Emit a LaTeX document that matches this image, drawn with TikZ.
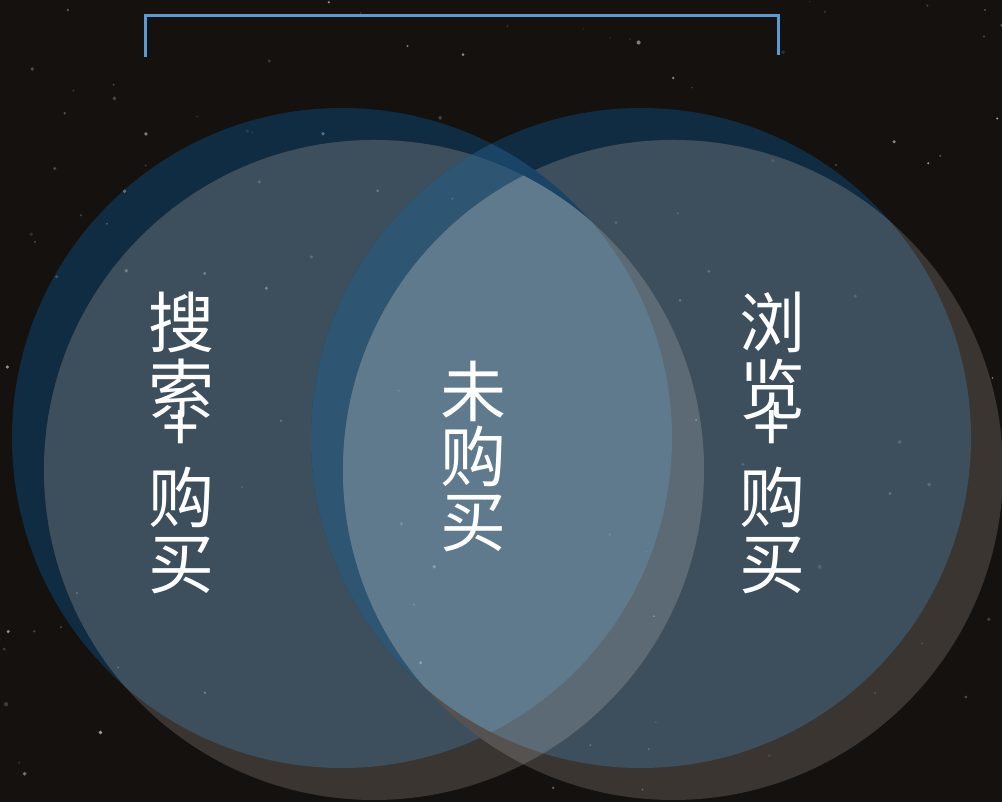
\documentclass[tikz,border=0pt]{standalone}
\usepackage{fontspec}
\newfontfamily\cjk{Noto Sans CJK SC}
\definecolor{bgc}{RGB}{20,17,14}
\definecolor{navy}{RGB}{15,44,67}
\definecolor{brgrey}{RGB}{58,53,49}
\definecolor{slate}{RGB}{61,79,92}
\definecolor{tipblue}{RGB}{26,68,102}
\definecolor{lgrey}{RGB}{85,82,79}
\definecolor{bandblue}{RGB}{46,86,115}
\definecolor{bandgrey}{RGB}{91,106,116}
\definecolor{core}{RGB}{95,122,141}
\definecolor{bracket}{RGB}{91,155,213}
\begin{document}
\begin{tikzpicture}[x=0.5pt,y=0.5pt,
  lbl/.style={text=white,font=\cjk\fontsize{33}{33.5}\selectfont,align=center,inner sep=0pt},
  brk/.style={draw=bracket,line width=1.5pt}]
\def\cLB{(342,364) circle [radius=330]}
\def\cLG{(374,332) circle [radius=330]}
\def\cRB{(641,364) circle [radius=330]}
\def\cRG{(673,332) circle [radius=330]}
% background
\fill[bgc] (0,0) rectangle (1002,802);
\useasboundingbox (0,0) rectangle (1002,802);
\begin{scope}
\clip (0,0) rectangle (1002,802);
% stars
\pgfmathsetseed{42}
\foreach \i in {1,...,110}{
  \pgfmathsetmacro\sx{rnd*1002}
  \pgfmathsetmacro\sy{rnd*802}
  \pgfmathsetmacro\so{0.15+0.45*rnd}
  \pgfmathsetmacro\sr{0.8+1.4*rnd}
  \fill[white,opacity=\so] (\sx,\sy) circle [radius=\sr];
}
% single circles
\fill[navy] \cLB; \fill[navy] \cRB;
\fill[brgrey] \cLG; \fill[brgrey] \cRG;
% pair overlaps
\begin{scope}\clip \cLB; \fill[slate] \cLG;\end{scope}
\begin{scope}\clip \cRB; \fill[slate] \cRG;\end{scope}
\begin{scope}\clip \cLB; \fill[tipblue] \cRB;\end{scope}
\begin{scope}\clip \cLG; \fill[lgrey] \cRG;\end{scope}
% triple overlaps
\begin{scope}\clip \cLB; \clip \cLG; \fill[bandblue] \cRB;\end{scope}
\begin{scope}\clip \cLG; \clip \cRG; \fill[bandgrey] \cRB;\end{scope}
% all four
\begin{scope}\clip \cLB; \clip \cLG; \clip \cRB; \fill[core] \cRG;\end{scope}
% faint stars over circles
\pgfmathsetseed{7}
\foreach \i in {1,...,70}{
  \pgfmathsetmacro\sx{rnd*1002}
  \pgfmathsetmacro\sy{rnd*802}
  \pgfmathsetmacro\so{0.08+0.25*rnd}
  \pgfmathsetmacro\sr{0.8+1.2*rnd}
  \fill[white,opacity=\so] (\sx,\sy) circle [radius=\sr];
}
\end{scope}
% bracket
\coordinate (bl) at (145,745);
\coordinate (tl) at (145,786);
\coordinate (tr) at (778,786);
\coordinate (br) at (778,747);
\draw[brk] (bl) -- (tl) -- (tr) -- (br);
% labels
\node[lbl] (search) at (181,359) {搜\\索\\[-15pt]+\\[2pt]购\\[-0.5pt]买};
\node[lbl] (notbuy) at (473,345) {未\\[-1pt]购\\[-1pt]买};
\node[lbl] (browse) at (772,359) {浏\\览\\[-15pt]+\\[2pt]购\\[-0.5pt]买};
\end{tikzpicture}
\end{document}
